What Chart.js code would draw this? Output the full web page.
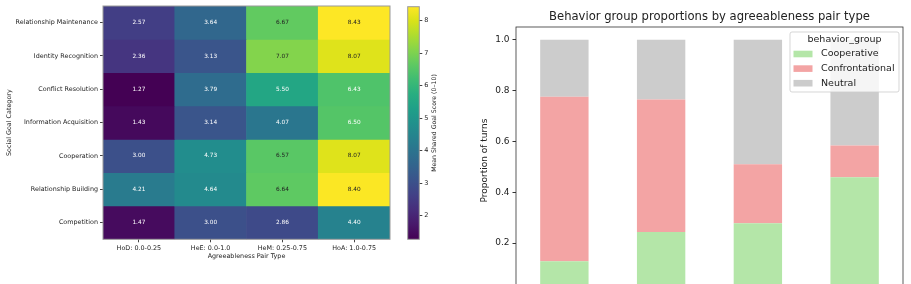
<!DOCTYPE html>
<html>
<head>
<meta charset="utf-8">
<script src="https://cdn.jsdelivr.net/npm/chart.js@4.4.1/dist/chart.umd.min.js"></script>
<style>
  body { margin: 0; background: #fff; overflow: hidden; width: 911px; height: 284px; position: relative; }
  canvas { position: absolute; top: 0; }
</style>
</head>
<body>
<canvas id="heat" width="400" height="284" style="left:0"></canvas>
<canvas id="cbar" width="60" height="284" style="left:400px"></canvas>
<canvas id="bars" width="451" height="340" style="left:460px"></canvas>
<script>
// heatmap data (rows top -> bottom)
var pairTypes = ["HoD: 0.0-0.25", "HeE: 0.0-1.0", "HeM: 0.25-0.75", "HoA: 1.0-0.75"];
var goalCategories = ["Relationship Maintenance", "Identity Recognition", "Conflict Resolution",
  "Information Acquisition", "Cooperation", "Relationship Building", "Competition"];
var relMaintenance = [2.57, 3.64, 6.67, 8.43];
var identityRecog = [2.36, 3.13, 7.07, 8.07];
var conflictRes = [1.27, 3.79, 5.50, 6.43];
var infoAcq = [1.43, 3.14, 4.07, 6.50];
var cooperation = [3.00, 4.73, 6.57, 8.07];
var relBuilding = [4.21, 4.64, 6.64, 8.40];
var competition = [1.47, 3.00, 2.86, 4.40];
var scoreRows = [relMaintenance, identityRecog, conflictRes, infoAcq, cooperation, relBuilding, competition];
var scoreMin = 1.27, scoreMax = 8.43;
var cbarTicks = [2, 3, 4, 5, 6, 7, 8];

// stacked bar data
var behaviorGroups = ["Cooperative", "Confrontational", "Neutral"];
var cooperative = [0.129, 0.244, 0.278, 0.459];
var confrontational = [0.647, 0.521, 0.232, 0.125];
var neutral = [0.224, 0.235, 0.490, 0.416];
var propTicks = [0, 0.2, 0.4, 0.6, 0.8, 1.0];

var viridis = ["#440154", "#48186a", "#472d7b", "#424086", "#3b528b", "#33638d", "#2c728e", "#26828e",
  "#21918c", "#1fa088", "#28ae80", "#3fbc73", "#5ec962", "#84d44b", "#addc30", "#d8e219", "#fde725"];

function hexRgb(h) {
  return [parseInt(h.substr(1, 2), 16), parseInt(h.substr(3, 2), 16), parseInt(h.substr(5, 2), 16)];
}
function viridisAt(v) {
  var t = (v - scoreMin) / (scoreMax - scoreMin);
  t = Math.max(0, Math.min(1, t)) * (viridis.length - 1);
  var i = Math.min(Math.floor(t), viridis.length - 2), f = t - i;
  var a = hexRgb(viridis[i]), b = hexRgb(viridis[i + 1]);
  return 'rgb(' + [0, 1, 2].map(function(k){ return Math.round(a[k] + (b[k] - a[k]) * f); }).join(',') + ')';
}

var FONT = "'DejaVu Sans', sans-serif";
var TXT = '#222';

// ---------- heatmap ----------
var heatLabels = {
  id: 'heatLabels',
  afterDatasetsDraw: function(chart) {
    var ctx = chart.ctx;
    ctx.save();
    ctx.font = '5.8px ' + FONT;
    ctx.textAlign = 'center';
    ctx.textBaseline = 'middle';
    chart.data.datasets.forEach(function(ds, i) {
      chart.getDatasetMeta(i).data.forEach(function(el, j) {
        var v = scoreRows[i][j];
        ctx.fillStyle = v > 6.55 ? '#222' : '#fff';
        ctx.fillText(v.toFixed(2), el.x, (el.y + el.base) / 2);
      });
    });
    var a = chart.chartArea;
    ctx.strokeStyle = '#999';
    ctx.lineWidth = 1;
    ctx.strokeRect(a.left, a.top, a.right - a.left, a.bottom - a.top);
    ctx.restore();
  }
};

new Chart(document.getElementById('heat').getContext('2d'), {
  type: 'bar',
  data: {
    labels: pairTypes,
    datasets: goalCategories.map(function(name, i) {
      return {
        label: name,
        data: pairTypes.map(function(){ return 1; }),
        backgroundColor: scoreRows[i].map(viridisAt),
        borderWidth: 0,
        barPercentage: 1,
        categoryPercentage: 1
      };
    })
  },
  options: {
    responsive: false,
    animation: false,
    layout: { padding: { left: 0, top: 6, right: 10, bottom: 0 } },
    plugins: { legend: { display: false }, tooltip: { enabled: false } },
    scales: {
      x: {
        stacked: true,
        grid: { offset: false, drawOnChartArea: false, tickLength: 3, color: '#444' },
        border: { display: false },
        ticks: { font: { family: FONT, size: 6.4 }, color: TXT, maxRotation: 0, padding: 2 },
        title: { display: true, text: 'Agreeableness Pair Type', font: { family: FONT, size: 6.4 }, color: TXT,
          padding: { top: 0, bottom: 24 } },
        afterFit: function(s) { s.height = 44.7; }
      },
      y: {
        stacked: true,
        reverse: true,
        min: 0,
        max: goalCategories.length,
        grid: { drawOnChartArea: false, tickLength: 3, color: '#444' },
        border: { display: false },
        afterBuildTicks: function(s) {
          s.ticks = goalCategories.map(function(_, i){ return { value: i + 0.5 }; });
        },
        ticks: {
          font: { family: FONT, size: 6.4 }, color: TXT, padding: 2, autoSkip: false,
          callback: function(v) { return goalCategories[Math.floor(v)]; }
        },
        title: { display: true, text: 'Social Goal Category', font: { family: FONT, size: 6.4 }, color: TXT,
          padding: { top: 6, bottom: 0 } },
        afterFit: function(s) { s.width = 103; }
      }
    }
  },
  plugins: [heatLabels]
});

// ---------- colorbar ----------
var cbarDeco = {
  id: 'cbarDeco',
  afterDraw: function(chart) {
    var ctx = chart.ctx, a = chart.chartArea;
    ctx.save();
    ctx.strokeStyle = '#999';
    ctx.lineWidth = 1;
    ctx.strokeRect(a.left, a.top, a.right - a.left, a.bottom - a.top);
    ctx.translate(34, (a.top + a.bottom) / 2);
    ctx.rotate(-Math.PI / 2);
    ctx.font = '6.2px ' + FONT;
    ctx.fillStyle = TXT;
    ctx.textAlign = 'center';
    ctx.textBaseline = 'middle';
    ctx.fillText('Mean Shared Goal Score (0\u201310)', 0, 0);
    ctx.restore();
  }
};

new Chart(document.getElementById('cbar').getContext('2d'), {
  type: 'bar',
  data: {
    labels: ['score'],
    datasets: [{
      data: [[scoreMin, scoreMax]],
      barPercentage: 1,
      categoryPercentage: 1,
      borderWidth: 0,
      backgroundColor: function(c) {
        var a = c.chart.chartArea;
        if (!a) return viridis[0];
        var g = c.chart.ctx.createLinearGradient(0, a.bottom, 0, a.top);
        viridis.forEach(function(col, k){ g.addColorStop(k / (viridis.length - 1), col); });
        return g;
      }
    }]
  },
  options: {
    responsive: false,
    animation: false,
    layout: { padding: { left: 7.7, top: 6.7, right: 0, bottom: 44.7 } },
    plugins: { legend: { display: false }, tooltip: { enabled: false } },
    scales: {
      x: { display: false },
      y: {
        position: 'right',
        min: scoreMin,
        max: scoreMax,
        grid: { drawOnChartArea: false, tickLength: 3, color: '#444' },
        border: { display: false },
        afterBuildTicks: function(s) { s.ticks = cbarTicks.map(function(v){ return { value: v }; }); },
        ticks: { font: { family: FONT, size: 6.5 }, color: TXT, padding: 2 },
        afterFit: function(s) { s.width = 40.7; }
      }
    }
  },
  plugins: [cbarDeco]
});

// ---------- stacked proportions ----------
var barColors = ['#b4e6a8', '#f3a4a4', '#cccccc'];
var barsTitle = 'Behavior group proportions by agreeableness pair type';

// frame, title (centred over the plot area like matplotlib) and legend
var frameAndLegend = {
  id: 'frameAndLegend',
  afterDraw: function(chart) {
    var ctx = chart.ctx, a = chart.chartArea;
    ctx.save();
    ctx.strokeStyle = '#333';
    ctx.lineWidth = 0.8;
    ctx.strokeRect(a.left, a.top, a.right - a.left, a.bottom - a.top);

    ctx.font = '11.6px ' + FONT;
    ctx.fillStyle = TXT;
    ctx.textAlign = 'center';
    ctx.textBaseline = 'middle';
    ctx.fillText(barsTitle, (a.left + a.right) / 2, 16.5);

    var w = 109, h = 60, x = a.right - 4 - w, y = a.top + 5;
    ctx.beginPath();
    ctx.roundRect(x, y, w, h, 2);
    ctx.fillStyle = 'rgba(255,255,255,0.8)';
    ctx.fill();
    ctx.strokeStyle = 'rgba(204,204,204,0.8)';
    ctx.lineWidth = 1;
    ctx.stroke();

    ctx.font = '9.5px ' + FONT;
    ctx.fillStyle = TXT;
    ctx.fillText('behavior_group', x + w / 2, y + 7.5);
    ctx.textAlign = 'left';
    chart.data.datasets.forEach(function(ds, i) {
      var ry = y + 22 + i * 14.6;
      ctx.fillStyle = ds.backgroundColor;
      ctx.fillRect(x + 3.5, ry - 3.3, 19, 6.6);
      ctx.fillStyle = TXT;
      ctx.fillText(ds.label, x + 31, ry);
    });
    ctx.restore();
  }
};

new Chart(document.getElementById('bars').getContext('2d'), {
  type: 'bar',
  data: {
    labels: pairTypes,
    datasets: [
      { label: behaviorGroups[0], data: cooperative, backgroundColor: barColors[0] },
      { label: behaviorGroups[1], data: confrontational, backgroundColor: barColors[1] },
      { label: behaviorGroups[2], data: neutral, backgroundColor: barColors[2] }
    ].map(function(d){ d.borderWidth = 0; d.barPercentage = 0.5; d.categoryPercentage = 1; return d; })
  },
  options: {
    responsive: false,
    animation: false,
    layout: { padding: { left: 0, top: 27, right: 8, bottom: 0 } },
    plugins: { legend: { display: false }, tooltip: { enabled: false } },
    scales: {
      x: {
        stacked: true,
        grid: { offset: false, drawOnChartArea: false, tickLength: 3.5, color: '#333' },
        border: { display: false },
        ticks: { font: { family: FONT, size: 9 }, color: TXT },
        afterFit: function(s) { s.height = 46; }
      },
      y: {
        stacked: true,
        min: 0,
        max: 1.05,
        grid: { drawOnChartArea: false, tickLength: 3.5, color: '#333' },
        border: { display: false },
        afterBuildTicks: function(s) { s.ticks = propTicks.map(function(v){ return { value: v }; }); },
        ticks: {
          font: { family: FONT, size: 9 }, color: TXT, padding: 3,
          callback: function(v) { return v.toFixed(1); }
        },
        title: { display: true, text: 'Proportion of turns', font: { family: FONT, size: 9 }, color: TXT,
          padding: { top: 19.6, bottom: 0 } },
        afterFit: function(s) { s.width = 56; }
      }
    }
  },
  plugins: [frameAndLegend]
});
</script>
</body>
</html>
